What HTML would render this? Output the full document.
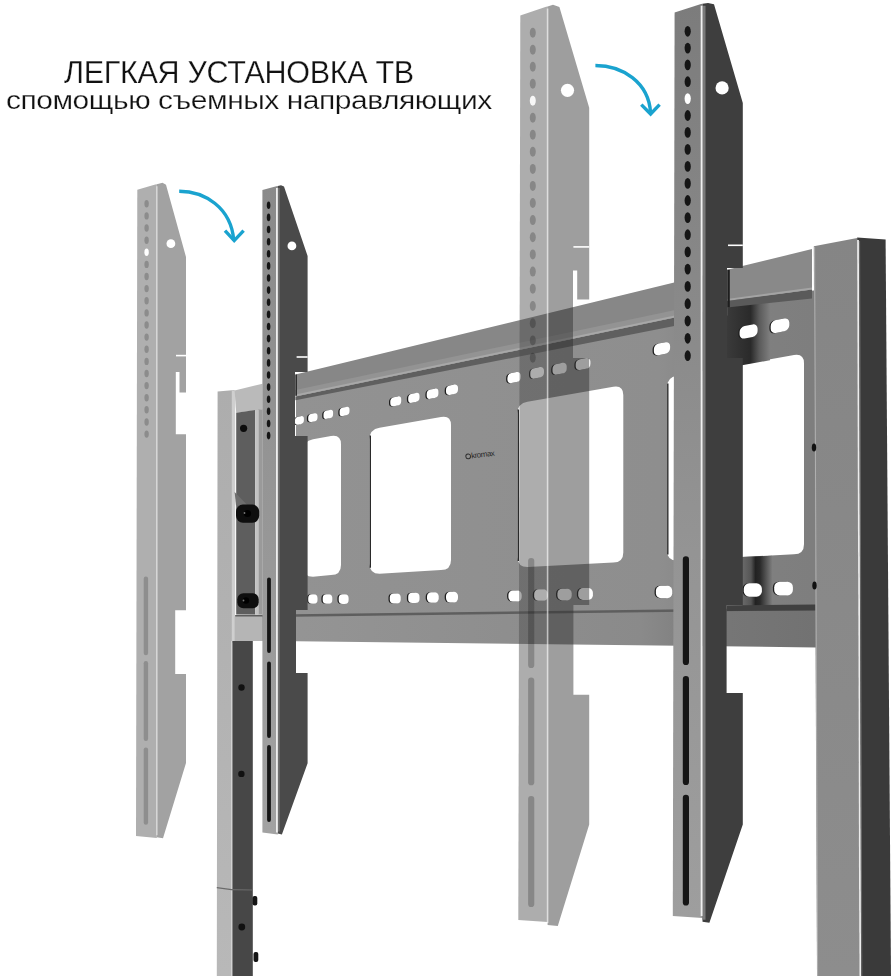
<!DOCTYPE html>
<html><head><meta charset="utf-8"><style>
html,body{margin:0;padding:0;background:#fff;}
body{width:896px;height:976px;overflow:hidden;position:relative;font-family:"Liberation Sans",sans-serif;}
svg{position:absolute;left:0;top:0;}
.t{position:absolute;white-space:nowrap;color:#111;line-height:1;-webkit-text-stroke:0.25px #fff;transform:translateZ(0);}
#t1{left:64px;top:56.7px;font-size:30.5px;letter-spacing:-0.3px;}
#t2{left:6px;top:87px;font-size:26.5px;letter-spacing:-0.4px;transform-origin:0 0;transform:scaleX(1.13) translateZ(0);}
</style></head><body>
<svg width="896" height="976" viewBox="0 0 896 976">
<defs>
<linearGradient id="gdf" x1="0" y1="0" x2="0" y2="1"><stop offset="0" stop-color="#8a8a8a"/><stop offset="1" stop-color="#a2a2a2"/></linearGradient>
<linearGradient id="gdf2" x1="0" y1="0" x2="0" y2="1"><stop offset="0" stop-color="#7c7c7c"/><stop offset="0.6" stop-color="#949494"/><stop offset="1" stop-color="#9e9e9e"/></linearGradient>
<linearGradient id="glp" x1="0" y1="0" x2="0" y2="1"><stop offset="0" stop-color="#adadad"/><stop offset="1" stop-color="#b8b8b8"/></linearGradient>
<linearGradient id="grp" x1="0" y1="0" x2="0" y2="1"><stop offset="0" stop-color="#858585"/><stop offset="1" stop-color="#8d8d8d"/></linearGradient>
<linearGradient id="gbr" gradientUnits="userSpaceOnUse" x1="234" y1="0" x2="816" y2="0"><stop offset="0" stop-color="#969696"/><stop offset="0.7" stop-color="#8a8a8a"/><stop offset="0.85" stop-color="#767676"/><stop offset="1" stop-color="#727272"/></linearGradient>
<linearGradient id="gpl" gradientUnits="userSpaceOnUse" x1="296" y1="0" x2="814" y2="0"><stop offset="0" stop-color="#929292"/><stop offset="0.7" stop-color="#8e8e8e"/><stop offset="0.86" stop-color="#808080"/><stop offset="1" stop-color="#7e7e7e"/></linearGradient>
<linearGradient id="gsh" gradientUnits="userSpaceOnUse" x1="727" y1="0" x2="770" y2="0"><stop offset="0" stop-color="#3a3a3a"/><stop offset="0.55" stop-color="#2a2a2a"/><stop offset="0.75" stop-color="#5a5a5a"/><stop offset="1" stop-color="#7e7e7e"/></linearGradient>
<linearGradient id="gsh2" gradientUnits="userSpaceOnUse" x1="742" y1="0" x2="772" y2="0"><stop offset="0" stop-color="#6a6a6a"/><stop offset="0.3" stop-color="#555"/><stop offset="0.45" stop-color="#222"/><stop offset="0.6" stop-color="#2a2a2a"/><stop offset="1" stop-color="#7c7c7c"/></linearGradient>
</defs>
<polygon points="296.0,399.2 727.0,314.7 727.0,300.0 818.0,290.0 818.0,612.0 296.0,618.0" fill="url(#gpl)" />
<path d="M313.0,439.3 L331.0,436.1 Q341.0,434.4 341.0,444.4 L341.0,565.1 Q341.0,575.1 331.0,575.1 L313.0,576.8 Q303.0,576.8 303.0,566.8 L303.0,451.1 Q303.0,441.1 313.0,439.3 Z" fill="#ffffff"/>
<path d="M379.5,427.7 L441.0,416.9 Q451.0,415.1 451.0,425.1 L451.0,560.1 Q451.0,570.1 441.0,570.1 L379.5,573.8 Q369.5,573.8 369.5,563.8 L369.5,439.4 Q369.5,429.4 379.5,427.7 Z" fill="#ffffff"/>
<path d="M527.5,401.8 L613.3,386.7 Q623.3,385.0 623.3,395.0 L623.3,552.4 Q623.3,562.4 613.3,562.4 L527.5,567.1 Q517.5,567.1 517.5,557.1 L517.5,413.5 Q517.5,403.5 527.5,401.8 Z" fill="#ffffff"/>
<path d="M677.0,375.6 L794.0,355.1 Q804.0,353.4 804.0,363.4 L804.0,544.2 Q804.0,554.2 794.0,554.2 L677.0,560.4 Q667.0,560.4 667.0,550.4 L667.0,387.4 Q667.0,377.4 677.0,375.6 Z" fill="#ffffff"/>
<line x1="370.3" y1="435.4" x2="370.3" y2="567.8" stroke="#2a2a2a" stroke-width="1.4" />
<line x1="518.3" y1="409.5" x2="518.3" y2="561.1" stroke="#2a2a2a" stroke-width="1.4" />
<line x1="667.8" y1="383.4" x2="667.8" y2="554.4" stroke="#2a2a2a" stroke-width="1.4" />
<polygon points="727.0,306.0 770.0,302.0 770.0,360.3 727.0,367.9" fill="url(#gsh)" />
<polygon points="742.0,557.0 772.0,555.7 772.0,611.0 742.0,611.0" fill="url(#gsh2)" />
<rect x="293.6" y="416.4" width="9.0" height="8.0" rx="3.2" fill="#1e1e1e" transform="translate(299.4 420.4) skewY(-11) translate(-299.4 -420.4)"/>
<rect x="294.9" y="416.4" width="9.0" height="8.0" rx="3.2" fill="#ffffff" transform="translate(299.4 420.4) skewY(-11) translate(-299.4 -420.4)"/>
<rect x="306.9" y="413.6" width="9.3" height="8.1" rx="3.3" fill="#1e1e1e" transform="translate(312.8 417.7) skewY(-11) translate(-312.8 -417.7)"/>
<rect x="308.2" y="413.6" width="9.3" height="8.1" rx="3.3" fill="#ffffff" transform="translate(312.8 417.7) skewY(-11) translate(-312.8 -417.7)"/>
<rect x="322.2" y="410.2" width="9.6" height="8.3" rx="3.3" fill="#1e1e1e" transform="translate(328.3 414.3) skewY(-11) translate(-328.3 -414.3)"/>
<rect x="323.5" y="410.2" width="9.6" height="8.3" rx="3.3" fill="#ffffff" transform="translate(328.3 414.3) skewY(-11) translate(-328.3 -414.3)"/>
<rect x="338.3" y="407.2" width="9.9" height="8.4" rx="3.4" fill="#1e1e1e" transform="translate(344.5 411.4) skewY(-11) translate(-344.5 -411.4)"/>
<rect x="339.6" y="407.2" width="9.9" height="8.4" rx="3.4" fill="#ffffff" transform="translate(344.5 411.4) skewY(-11) translate(-344.5 -411.4)"/>
<rect x="389.0" y="396.8" width="10.9" height="9.0" rx="3.6" fill="#1e1e1e" transform="translate(395.8 401.3) skewY(-11) translate(-395.8 -401.3)"/>
<rect x="390.3" y="396.8" width="10.9" height="9.0" rx="3.6" fill="#ffffff" transform="translate(395.8 401.3) skewY(-11) translate(-395.8 -401.3)"/>
<rect x="406.9" y="393.3" width="11.3" height="9.1" rx="3.7" fill="#1e1e1e" transform="translate(413.8 397.9) skewY(-11) translate(-413.8 -397.9)"/>
<rect x="408.2" y="393.3" width="11.3" height="9.1" rx="3.7" fill="#ffffff" transform="translate(413.8 397.9) skewY(-11) translate(-413.8 -397.9)"/>
<rect x="425.4" y="389.1" width="11.7" height="9.3" rx="3.7" fill="#1e1e1e" transform="translate(432.5 393.8) skewY(-11) translate(-432.5 -393.8)"/>
<rect x="426.7" y="389.1" width="11.7" height="9.3" rx="3.7" fill="#ffffff" transform="translate(432.5 393.8) skewY(-11) translate(-432.5 -393.8)"/>
<rect x="444.7" y="385.0" width="12.0" height="9.5" rx="3.8" fill="#1e1e1e" transform="translate(452.0 389.8) skewY(-11) translate(-452.0 -389.8)"/>
<rect x="446.0" y="385.0" width="12.0" height="9.5" rx="3.8" fill="#ffffff" transform="translate(452.0 389.8) skewY(-11) translate(-452.0 -389.8)"/>
<rect x="506.1" y="372.5" width="13.3" height="10.1" rx="4.1" fill="#1e1e1e" transform="translate(514.0 377.6) skewY(-11) translate(-514.0 -377.6)"/>
<rect x="507.4" y="372.5" width="13.3" height="10.1" rx="4.1" fill="#ffffff" transform="translate(514.0 377.6) skewY(-11) translate(-514.0 -377.6)"/>
<rect x="529.0" y="367.6" width="13.7" height="10.4" rx="4.1" fill="#1e1e1e" transform="translate(537.2 372.8) skewY(-11) translate(-537.2 -372.8)"/>
<rect x="530.3" y="367.6" width="13.7" height="10.4" rx="4.1" fill="#ffffff" transform="translate(537.2 372.8) skewY(-11) translate(-537.2 -372.8)"/>
<rect x="551.2" y="363.4" width="14.2" height="10.6" rx="4.2" fill="#1e1e1e" transform="translate(559.6 368.7) skewY(-11) translate(-559.6 -368.7)"/>
<rect x="552.5" y="363.4" width="14.2" height="10.6" rx="4.2" fill="#ffffff" transform="translate(559.6 368.7) skewY(-11) translate(-559.6 -368.7)"/>
<rect x="574.4" y="358.6" width="14.7" height="10.8" rx="4.3" fill="#1e1e1e" transform="translate(583.0 364.0) skewY(-11) translate(-583.0 -364.0)"/>
<rect x="575.7" y="358.6" width="14.7" height="10.8" rx="4.3" fill="#ffffff" transform="translate(583.0 364.0) skewY(-11) translate(-583.0 -364.0)"/>
<rect x="652.6" y="342.9" width="16.2" height="11.6" rx="4.6" fill="#1e1e1e" transform="translate(662.0 348.7) skewY(-11) translate(-662.0 -348.7)"/>
<rect x="653.9" y="342.9" width="16.2" height="11.6" rx="4.6" fill="#ffffff" transform="translate(662.0 348.7) skewY(-11) translate(-662.0 -348.7)"/>
<rect x="738.3" y="325.2" width="18.0" height="12.5" rx="5.0" fill="#1e1e1e" transform="translate(748.6 331.4) skewY(-11) translate(-748.6 -331.4)"/>
<rect x="739.6" y="325.2" width="18.0" height="12.5" rx="5.0" fill="#ffffff" transform="translate(748.6 331.4) skewY(-11) translate(-748.6 -331.4)"/>
<rect x="769.4" y="319.3" width="18.6" height="12.8" rx="5.1" fill="#1e1e1e" transform="translate(780.0 325.7) skewY(-11) translate(-780.0 -325.7)"/>
<rect x="770.7" y="319.3" width="18.6" height="12.8" rx="5.1" fill="#ffffff" transform="translate(780.0 325.7) skewY(-11) translate(-780.0 -325.7)"/>
<rect x="306.9" y="594.3" width="9.3" height="9.4" rx="3.8" fill="#1e1e1e"/>
<rect x="308.2" y="594.3" width="9.3" height="9.4" rx="3.8" fill="#ffffff"/>
<rect x="321.4" y="594.2" width="9.6" height="9.5" rx="3.8" fill="#1e1e1e"/>
<rect x="322.7" y="594.2" width="9.6" height="9.5" rx="3.8" fill="#ffffff"/>
<rect x="337.4" y="594.2" width="9.9" height="9.7" rx="3.9" fill="#1e1e1e"/>
<rect x="338.7" y="594.2" width="9.9" height="9.7" rx="3.9" fill="#ffffff"/>
<rect x="388.5" y="593.4" width="10.9" height="10.2" rx="4.1" fill="#1e1e1e"/>
<rect x="389.8" y="593.4" width="10.9" height="10.2" rx="4.1" fill="#ffffff"/>
<rect x="406.9" y="592.8" width="11.3" height="10.3" rx="4.1" fill="#1e1e1e"/>
<rect x="408.2" y="592.8" width="11.3" height="10.3" rx="4.1" fill="#ffffff"/>
<rect x="425.7" y="592.3" width="11.7" height="10.5" rx="4.2" fill="#1e1e1e"/>
<rect x="427.0" y="592.3" width="11.7" height="10.5" rx="4.2" fill="#ffffff"/>
<rect x="444.7" y="591.7" width="12.0" height="10.7" rx="4.3" fill="#1e1e1e"/>
<rect x="446.0" y="591.7" width="12.0" height="10.7" rx="4.3" fill="#ffffff"/>
<rect x="507.1" y="590.4" width="13.3" height="11.2" rx="4.5" fill="#1e1e1e"/>
<rect x="508.4" y="590.4" width="13.3" height="11.2" rx="4.5" fill="#ffffff"/>
<rect x="532.8" y="589.3" width="13.8" height="11.5" rx="4.6" fill="#1e1e1e"/>
<rect x="534.1" y="589.3" width="13.8" height="11.5" rx="4.6" fill="#ffffff"/>
<rect x="556.1" y="588.7" width="14.3" height="11.7" rx="4.7" fill="#1e1e1e"/>
<rect x="557.4" y="588.7" width="14.3" height="11.7" rx="4.7" fill="#ffffff"/>
<rect x="576.9" y="588.1" width="14.7" height="11.9" rx="4.7" fill="#1e1e1e"/>
<rect x="578.2" y="588.1" width="14.7" height="11.9" rx="4.7" fill="#ffffff"/>
<rect x="654.6" y="585.7" width="16.3" height="12.6" rx="5.0" fill="#1e1e1e"/>
<rect x="655.9" y="585.7" width="16.3" height="12.6" rx="5.0" fill="#ffffff"/>
<rect x="742.5" y="583.3" width="18.1" height="13.4" rx="5.4" fill="#1e1e1e"/>
<rect x="743.8" y="583.3" width="18.1" height="13.4" rx="5.4" fill="#ffffff"/>
<rect x="772.9" y="581.7" width="18.7" height="13.7" rx="5.5" fill="#1e1e1e"/>
<rect x="774.2" y="581.7" width="18.7" height="13.7" rx="5.5" fill="#ffffff"/>
<g transform="rotate(-7 479 454)"><circle cx="468" cy="455" r="2.4" fill="none" stroke="#333" stroke-width="1"/><text x="471" y="457.6" font-family="Liberation Sans, sans-serif" font-size="8" fill="#2a2a2a" letter-spacing="-0.5" style="text-rendering:geometricPrecision">kromax</text></g>
<polygon points="295.4,374.6 727.5,269.6 727.5,306.0 295.4,395.9" fill="#878787" />
<polygon points="295.4,389.9 727.5,299.0 727.5,305.0 295.4,394.9" fill="#939393" />
<polygon points="295.4,394.4 727.5,304.5 727.5,306.5 295.4,396.4" fill="#a8a8a8" />
<polygon points="295.4,396.4 727.5,306.5 727.5,315.6 295.4,400.3" fill="#5f5f5f" />
<line x1="296.2" y1="374.4" x2="296.2" y2="395.7" stroke="#2e2e2e" stroke-width="1.6" />
<polygon points="727.0,269.7 812.0,249.1 812.0,289.0 727.0,300.5" fill="#898989" />
<polygon points="727.0,299.0 812.0,287.5 812.0,289.5 727.0,301.0" fill="#a4a4a4" />
<polygon points="727.0,301.0 812.0,289.5 812.0,298.5 727.0,307.5" fill="#5a5a5a" />
<line x1="728.6" y1="269.8" x2="728.6" y2="307.3" stroke="#1e1e1e" stroke-width="2.4" />
<polygon points="234.0,616.0 816.0,608.5 816.0,647.5 234.0,640.5" fill="url(#gbr)" />
<polygon points="234.0,615.0 816.0,607.5 816.0,610.0 234.0,617.5" fill="#5e5e5e" />
<polygon points="727.0,605.5 816.0,604.5 816.0,610.5 727.0,611.0" fill="#404040" />
<polygon points="813.8,246.2 857.2,238.0 859.0,976.0 817.0,976.0" fill="url(#grp)" />
<polygon points="857.2,237.4 885.6,239.5 891.0,976.0 859.0,976.0" fill="#3a3a3a" />
<line x1="858.0" y1="240.0" x2="860.2" y2="976.0" stroke="#ececec" stroke-width="1.8" />
<line x1="859.6" y1="241.0" x2="861.8" y2="976.0" stroke="#7a7a7a" stroke-width="0.8" />
<line x1="814.6" y1="247.0" x2="817.6" y2="976.0" stroke="#b0b0b0" stroke-width="1.0" />
<ellipse cx="814.5" cy="585.5" rx="2.2" ry="4.0" fill="#111" />
<ellipse cx="814.0" cy="447.5" rx="2.2" ry="4.0" fill="#111" />
<polygon points="217.6,391.6 234.6,390.0 234.6,643.0 231.6,643.0 231.3,976.0 216.8,976.0" fill="url(#glp)" />
<rect x="231.8" y="390.5" width="3.4" height="252.5" rx="0" fill="#cfcfcf" />
<rect x="231.0" y="641.0" width="1.4" height="335.0" rx="0" fill="#d2d2d2" />
<polygon points="234.6,390.4 262.5,383.8 262.5,409.4 236.2,412.7" fill="#bababa" />
<polygon points="236.2,412.7 255.2,410.0 255.2,614.5 236.2,614.5" fill="#5e5e5e" />
<rect x="255.2" y="410.0" width="3.2" height="204.5" rx="0" fill="#c2c2c2" />
<rect x="258.4" y="409.4" width="4.2" height="205.0" rx="0" fill="#9a9a9a" />
<rect x="232.4" y="641.0" width="20.4" height="335.0" rx="0" fill="#474747" />
<polygon points="234.6,616.5 262.5,616.5 262.5,641.0 234.6,641.0" fill="#b5b5b5" />
<polygon points="216.8,887.0 231.5,889.0 252.8,889.5 252.8,890.6 231.5,890.2 216.8,888.2" fill="#6a6a6a" />
<circle cx="243.6" cy="428.3" r="3.6" fill="#0c0c0c" />
<circle cx="241.4" cy="773.9" r="3.2" fill="#111" />
<circle cx="241.5" cy="687.5" r="3.2" fill="#111" />
<circle cx="241.8" cy="927.0" r="3.4" fill="#111" />
<rect x="252.5" y="896.0" width="4.8" height="9.5" rx="2" fill="#151515" />
<rect x="253.5" y="952.0" width="4.8" height="10.0" rx="2" fill="#151515" />
<polygon points="234.6,492.0 247.7,505.5 236.0,505.5" fill="#6e6e6e" />
<rect x="236.0" y="504.6" width="23.2" height="18.2" rx="7" fill="#0e0e0e" />
<circle cx="247.5" cy="513.5" r="3.6" fill="#000" />
<circle cx="244.5" cy="513.0" r="0.9" fill="#777" />
<rect x="237.3" y="593.3" width="21.4" height="15.0" rx="6" fill="#0e0e0e" />
<circle cx="246.0" cy="600.5" r="3.2" fill="#000" />
<circle cx="243.5" cy="600.5" r="0.9" fill="#777" />
<polygon points="137.3,189.8 155.3,184.5 156.8,184.2 156.8,838.0 136.0,836.0" fill="#afafaf" />
<polygon points="156.8,184.2 162.5,182.8 166.0,184.7 186.0,257.0 186.0,392.6 179.5,392.6 179.5,372.0 175.8,372.0 175.8,434.3 186.0,434.3 186.0,610.2 175.2,610.2 175.2,674.0 186.0,674.0 186.0,763.0 163.0,838.3 156.8,837.3" fill="#a2a2a2" />
<polygon points="176.0,354.8 186.0,354.8 186.0,356.4 176.0,356.4" fill="#ffffff" />
<line x1="156.8" y1="186.2" x2="156.8" y2="835.3" stroke="#d6d6d6" stroke-width="1.6" />
<ellipse cx="146.6" cy="203.8" rx="2.2" ry="3.7" fill="#8c8c8c" />
<ellipse cx="146.6" cy="215.9" rx="2.2" ry="3.7" fill="#8c8c8c" />
<ellipse cx="146.6" cy="228.0" rx="2.2" ry="3.7" fill="#8c8c8c" />
<ellipse cx="146.6" cy="240.2" rx="2.2" ry="3.7" fill="#8c8c8c" />
<ellipse cx="146.6" cy="252.3" rx="2.2" ry="3.7" fill="#ffffff" />
<ellipse cx="146.6" cy="264.4" rx="2.2" ry="3.7" fill="#8c8c8c" />
<ellipse cx="146.6" cy="276.5" rx="2.2" ry="3.7" fill="#8c8c8c" />
<ellipse cx="146.6" cy="288.6" rx="2.2" ry="3.7" fill="#8c8c8c" />
<ellipse cx="146.6" cy="300.8" rx="2.2" ry="3.7" fill="#8c8c8c" />
<ellipse cx="146.6" cy="312.9" rx="2.2" ry="3.7" fill="#8c8c8c" />
<ellipse cx="146.6" cy="325.0" rx="2.2" ry="3.7" fill="#8c8c8c" />
<ellipse cx="146.6" cy="337.1" rx="2.2" ry="3.7" fill="#8c8c8c" />
<ellipse cx="146.6" cy="349.2" rx="2.2" ry="3.7" fill="#8c8c8c" />
<ellipse cx="146.6" cy="361.4" rx="2.2" ry="3.7" fill="#8c8c8c" />
<ellipse cx="146.6" cy="373.5" rx="2.2" ry="3.7" fill="#8c8c8c" />
<ellipse cx="146.6" cy="385.6" rx="2.2" ry="3.7" fill="#8c8c8c" />
<ellipse cx="146.6" cy="397.7" rx="2.2" ry="3.7" fill="#8c8c8c" />
<ellipse cx="146.6" cy="409.8" rx="2.2" ry="3.7" fill="#8c8c8c" />
<ellipse cx="146.6" cy="422.0" rx="2.2" ry="3.7" fill="#8c8c8c" />
<ellipse cx="146.6" cy="434.1" rx="2.2" ry="3.7" fill="#8c8c8c" />
<circle cx="170.9" cy="243.7" r="4.4" fill="#ffffff" />
<rect x="143.7" y="576.5" width="4.4" height="78.8" rx="2.2" fill="#8e8e8e" />
<rect x="143.7" y="661.0" width="4.4" height="80.0" rx="2.2" fill="#8e8e8e" />
<rect x="143.7" y="747.4" width="4.4" height="77.3" rx="2.2" fill="#8e8e8e" />
<polygon points="262.4,190.0 276.3,186.3 277.8,186.0 277.8,834.5 262.4,832.5" fill="url(#gdf)" />
<polygon points="277.8,186.0 281.0,185.2 284.0,186.5 307.6,256.0 307.6,392.0 307.6,392.0 307.6,372.0 295.0,372.0 295.0,436.0 307.6,436.0 307.6,610.0 296.0,610.0 296.0,673.0 307.6,673.0 307.6,763.3 281.9,834.5 277.8,833.5" fill="#4a4a4a" />
<polygon points="296.6,356.2 307.6,356.2 307.6,357.8 296.6,357.8" fill="#ffffff" />
<line x1="278.8" y1="188.0" x2="278.8" y2="831.5" stroke="#6e6e6e" stroke-width="2.0" />
<line x1="276.9" y1="188.0" x2="276.9" y2="832.5" stroke="#eeeeee" stroke-width="1.8" />
<ellipse cx="268.6" cy="205.3" rx="1.8" ry="3.8" fill="#151515" />
<ellipse cx="268.6" cy="217.4" rx="1.8" ry="3.8" fill="#151515" />
<ellipse cx="268.6" cy="229.5" rx="1.8" ry="3.8" fill="#151515" />
<ellipse cx="268.6" cy="241.7" rx="1.8" ry="3.8" fill="#151515" />
<ellipse cx="268.6" cy="253.8" rx="1.8" ry="3.8" fill="#151515" />
<ellipse cx="268.6" cy="265.9" rx="1.8" ry="3.8" fill="#151515" />
<ellipse cx="268.6" cy="278.0" rx="1.8" ry="3.8" fill="#151515" />
<ellipse cx="268.6" cy="290.1" rx="1.8" ry="3.8" fill="#151515" />
<ellipse cx="268.6" cy="302.3" rx="1.8" ry="3.8" fill="#151515" />
<ellipse cx="268.6" cy="314.4" rx="1.8" ry="3.8" fill="#151515" />
<ellipse cx="268.6" cy="326.5" rx="1.8" ry="3.8" fill="#151515" />
<ellipse cx="268.6" cy="338.6" rx="1.8" ry="3.8" fill="#151515" />
<ellipse cx="268.6" cy="350.7" rx="1.8" ry="3.8" fill="#151515" />
<ellipse cx="268.6" cy="362.9" rx="1.8" ry="3.8" fill="#151515" />
<ellipse cx="268.6" cy="375.0" rx="1.8" ry="3.8" fill="#151515" />
<ellipse cx="268.6" cy="387.1" rx="1.8" ry="3.8" fill="#151515" />
<ellipse cx="268.6" cy="399.2" rx="1.8" ry="3.8" fill="#151515" />
<ellipse cx="268.6" cy="411.3" rx="1.8" ry="3.8" fill="#151515" />
<ellipse cx="268.6" cy="423.5" rx="1.8" ry="3.8" fill="#151515" />
<ellipse cx="268.6" cy="435.6" rx="1.8" ry="3.8" fill="#151515" />
<circle cx="291.9" cy="245.9" r="4.4" fill="#ffffff" />
<rect x="267.1" y="577.4" width="3.8" height="75.5" rx="1.9" fill="#151515" />
<rect x="267.1" y="661.6" width="3.8" height="76.4" rx="1.9" fill="#151515" />
<rect x="267.1" y="745.0" width="3.8" height="77.0" rx="1.9" fill="#151515" />
<polygon points="674.6,12.5 701.0,4.1 702.5,3.8 702.5,918.0 672.8,916.0" fill="url(#gdf2)" />
<polygon points="702.5,3.8 708.0,3.0 714.0,4.3 742.8,103.0 742.8,298.0 742.8,298.0 742.8,268.0 727.0,268.0 727.0,358.0 742.8,358.0 742.8,605.0 726.6,605.0 726.6,693.0 742.8,693.0 742.8,824.4 709.4,922.8 702.5,921.8" fill="#3e3e3e" />
<polygon points="728.0,244.5 742.8,244.5 742.8,246.1 728.0,246.1" fill="#ffffff" />
<line x1="704.0" y1="5.8" x2="704.0" y2="919.8" stroke="#7a7a7a" stroke-width="3.0" />
<line x1="701.6" y1="5.8" x2="701.6" y2="916.0" stroke="#f0f0f0" stroke-width="1.8" />
<ellipse cx="687.7" cy="31.3" rx="3.1" ry="5.4" fill="#151515" />
<ellipse cx="687.7" cy="48.1" rx="3.1" ry="5.4" fill="#151515" />
<ellipse cx="687.7" cy="64.9" rx="3.1" ry="5.4" fill="#151515" />
<ellipse cx="687.7" cy="81.7" rx="3.1" ry="5.4" fill="#151515" />
<ellipse cx="687.7" cy="98.6" rx="3.1" ry="5.4" fill="#ffffff" />
<ellipse cx="687.7" cy="115.5" rx="3.1" ry="5.4" fill="#151515" />
<ellipse cx="687.7" cy="132.4" rx="3.1" ry="5.4" fill="#151515" />
<ellipse cx="687.7" cy="149.4" rx="3.1" ry="5.4" fill="#151515" />
<ellipse cx="687.7" cy="166.4" rx="3.1" ry="5.4" fill="#151515" />
<ellipse cx="687.7" cy="183.4" rx="3.1" ry="5.4" fill="#151515" />
<ellipse cx="687.7" cy="200.5" rx="3.1" ry="5.4" fill="#151515" />
<ellipse cx="687.7" cy="217.6" rx="3.1" ry="5.4" fill="#151515" />
<ellipse cx="687.7" cy="234.7" rx="3.1" ry="5.4" fill="#151515" />
<ellipse cx="687.7" cy="251.9" rx="3.1" ry="5.4" fill="#151515" />
<ellipse cx="687.7" cy="269.1" rx="3.1" ry="5.4" fill="#151515" />
<ellipse cx="687.7" cy="286.4" rx="3.1" ry="5.4" fill="#151515" />
<ellipse cx="687.7" cy="303.7" rx="3.1" ry="5.4" fill="#151515" />
<ellipse cx="687.7" cy="321.0" rx="3.1" ry="5.4" fill="#151515" />
<ellipse cx="687.7" cy="338.3" rx="3.1" ry="5.4" fill="#151515" />
<ellipse cx="687.7" cy="355.7" rx="3.1" ry="5.4" fill="#151515" />
<circle cx="722.1" cy="87.9" r="6.6" fill="#ffffff" />
<rect x="682.8" y="556.3" width="6.2" height="108.7" rx="3.1" fill="#151515" />
<rect x="682.8" y="676.0" width="6.2" height="109.0" rx="3.1" fill="#151515" />
<rect x="682.8" y="794.7" width="6.2" height="110.9" rx="3.1" fill="#151515" />
<polygon points="520.3,15.6 546.1,6.8 547.6,6.5 547.6,922.0 518.3,920.0" fill="#4a4a4a" fill-opacity="0.45"/>
<polygon points="547.6,6.5 553.0,4.7 559.4,7.0 589.2,107.8 589.2,299.6 577.2,299.6 577.2,270.6 573.0,270.6 573.0,358.0 589.2,358.0 589.2,605.0 573.4,605.0 573.4,694.7 589.2,694.7 589.2,824.4 557.8,926.0 547.6,925.0" fill="#2c2c2c" fill-opacity="0.46"/>
<polygon points="573.4,246.1 589.2,246.1 589.2,247.7 573.4,247.7" fill="#ffffff" />
<line x1="547.6" y1="8.5" x2="547.6" y2="923.0" stroke="#ffffff" stroke-width="1.6" stroke-opacity="0.6"/>
<ellipse cx="532.8" cy="32.8" rx="3.0" ry="5.0" fill="#000000" fill-opacity="0.22"/>
<ellipse cx="532.8" cy="49.7" rx="3.0" ry="5.0" fill="#000000" fill-opacity="0.22"/>
<ellipse cx="532.8" cy="66.7" rx="3.0" ry="5.0" fill="#000000" fill-opacity="0.22"/>
<ellipse cx="532.8" cy="83.7" rx="3.0" ry="5.0" fill="#000000" fill-opacity="0.22"/>
<ellipse cx="532.8" cy="100.7" rx="3.0" ry="5.0" fill="#ffffff" fill-opacity="0.9"/>
<ellipse cx="532.8" cy="117.7" rx="3.0" ry="5.0" fill="#000000" fill-opacity="0.22"/>
<ellipse cx="532.8" cy="134.7" rx="3.0" ry="5.0" fill="#000000" fill-opacity="0.22"/>
<ellipse cx="532.8" cy="151.8" rx="3.0" ry="5.0" fill="#000000" fill-opacity="0.22"/>
<ellipse cx="532.8" cy="168.9" rx="3.0" ry="5.0" fill="#000000" fill-opacity="0.22"/>
<ellipse cx="532.8" cy="185.9" rx="3.0" ry="5.0" fill="#000000" fill-opacity="0.22"/>
<ellipse cx="532.8" cy="203.0" rx="3.0" ry="5.0" fill="#000000" fill-opacity="0.22"/>
<ellipse cx="532.8" cy="220.1" rx="3.0" ry="5.0" fill="#000000" fill-opacity="0.22"/>
<ellipse cx="532.8" cy="237.3" rx="3.0" ry="5.0" fill="#000000" fill-opacity="0.22"/>
<ellipse cx="532.8" cy="254.4" rx="3.0" ry="5.0" fill="#000000" fill-opacity="0.22"/>
<ellipse cx="532.8" cy="271.6" rx="3.0" ry="5.0" fill="#000000" fill-opacity="0.22"/>
<ellipse cx="532.8" cy="288.8" rx="3.0" ry="5.0" fill="#000000" fill-opacity="0.22"/>
<ellipse cx="532.8" cy="306.0" rx="3.0" ry="5.0" fill="#000000" fill-opacity="0.22"/>
<ellipse cx="532.8" cy="323.2" rx="3.0" ry="5.0" fill="#000000" fill-opacity="0.22"/>
<ellipse cx="532.8" cy="340.4" rx="3.0" ry="5.0" fill="#000000" fill-opacity="0.22"/>
<ellipse cx="532.8" cy="357.7" rx="3.0" ry="5.0" fill="#000000" fill-opacity="0.22"/>
<circle cx="567.5" cy="90.3" r="6.6" fill="#ffffff" fill-opacity="1.0"/>
<rect x="528.1" y="558.0" width="6.2" height="110.0" rx="3.1" fill="#000000" fill-opacity="0.22"/>
<rect x="528.1" y="677.5" width="6.2" height="107.8" rx="3.1" fill="#000000" fill-opacity="0.22"/>
<rect x="528.1" y="796.0" width="6.2" height="111.0" rx="3.1" fill="#000000" fill-opacity="0.22"/>
<g fill="none" stroke="#1aa3cf" stroke-width="3.4" stroke-linecap="butt" stroke-linejoin="miter"><path d="M179.2,191.2 C204,191.2 231,207 233.8,240.5"/><path d="M225.0,230.6 L234.2,240.6 L243.6,230.6"/><path d="M595.4,65.5 C622,65.5 649,82 650.6,113.2"/><path d="M641.3,104.6 L650.6,114.0 L659.6,104.6"/></g>
</svg>
<div class="t" id="t1">ЛЕГКАЯ УСТАНОВКА ТВ</div>
<div class="t" id="t2">спомощью съемных направляющих</div>
</body></html>
